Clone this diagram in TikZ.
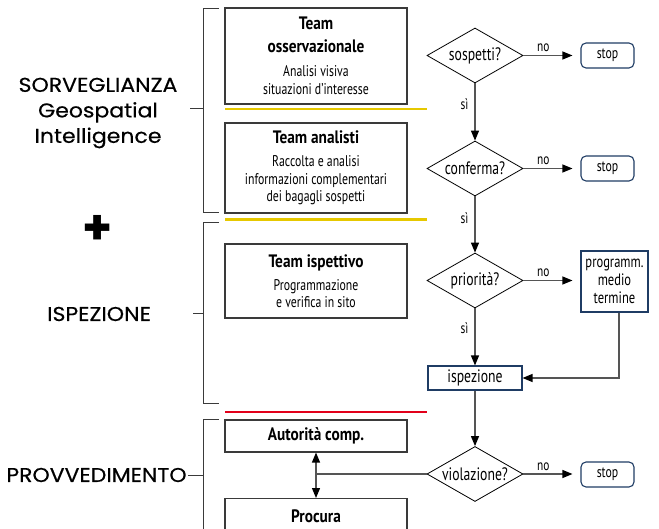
\documentclass[tikz,border=0pt]{standalone}
\usepackage{fontspec}
\setmainfont{PT Sans}[FakeStretch=0.76]
\newfontfamily\cond{PT Sans}[FakeStretch=0.76]
\newfontfamily\condb{PT Sans Bold}[FakeStretch=0.85]
\newfontfamily\sidef{Poppins}[FakeStretch=1.1,FakeBold=0.4]
\newfontfamily\plusf{Poppins Bold}
\usetikzlibrary{shapes.geometric,arrows.meta,calc}
\definecolor{lin}{HTML}{555555}
\definecolor{boxc}{HTML}{3A3A3A}
\definecolor{navy}{HTML}{1F3C64}
\definecolor{gold}{HTML}{E6C800}
\definecolor{redl}{HTML}{E2001A}
\newcommand\bt[1]{{\condb\fontsize{18}{17.5}\selectfont #1}}
\begin{document}
\begin{tikzpicture}[x=1pt,y=-1pt,
  teambox/.style={draw=boxc,line width=1.1pt,minimum width=182pt,inner sep=0pt,align=center,font=\cond\fontsize{15.5}{17.5}\selectfont},
  dec/.style={diamond,draw=black,line width=0.8pt,aspect=1.75,minimum width=96pt,minimum height=55pt,inner sep=0pt,font=\cond\fontsize{18}{19}\selectfont},
  stopbox/.style={draw=navy,line width=1.1pt,rounded corners=5pt,minimum width=53pt,minimum height=25pt,inner sep=0pt,font=\cond\fontsize{15.5}{17}\selectfont},
  bluebox/.style={draw=navy,line width=1.1pt,inner sep=0pt,align=center,font=\cond\fontsize{16.5}{18}\selectfont},
  conn/.style={draw=lin,line width=1.2pt},
  arr/.style={conn,-{Triangle[length=10pt,width=8pt,color=black,fill=black]}},
  dbl/.style={conn,{Triangle[length=10pt,width=8pt,color=black,fill=black]}-{Triangle[length=10pt,width=8pt,color=black,fill=black]}},
  lbl/.style={font=\cond\fontsize{15}{16}\selectfont,inner sep=0pt},
  side/.style={font=\sidef\fontsize{20}{25.5}\selectfont,align=center,inner sep=0pt},
  brk/.style={draw=boxc,line width=1pt},
]
\useasboundingbox (0,0) rectangle (659,529);
\begin{scope}
\clip (0,0) rectangle (659,529);

% left labels
\node[side] (sorv) at (98,113) {SORVEGLIANZA\\Geospatial\\Intelligence};
\node[font=\plusf\fontsize{48}{48}\selectfont,inner sep=0pt] (plus) at (98,230) {+};
\node[side] (isp) at (99,314) {ISPEZIONE};
\node[side] (prov) at (96.5,475) {PROVVEDIMENTO};

% brackets
\draw[brk] (219,9) -- (203.5,9) -- (203.5,213) -- (219,213);
\draw[brk] (190,109) -- (203.5,109);
\draw[brk] (219,223) -- (203.5,223) -- (203.5,404) -- (219,404);
\draw[brk] (193,314) -- (203.5,314);
\draw[brk] (219,419) -- (203.5,419) -- (203.5,540);
\draw[brk] (188,475) -- (203.5,475);

% team boxes
\node[teambox,minimum height=96pt] (t1) at (316,56) {\bt{Team}\\[5.5pt]\bt{osservazionale}\\[6.5pt]Analisi visiva\\situazioni d’interesse};
\node[teambox,minimum height=90pt] (t2) at (316,168) {\bt{Team analisti}\\[5.5pt]Raccolta e analisi\\informazioni complementari\\dei bagagli sospetti};
\node[teambox,minimum height=74pt] (t3) at (316,281) {\bt{Team ispettivo}\\[5.5pt]Programmazione\\e verifica in sito};
\node[teambox,minimum height=32pt] (aut) at (316,436) {\bt{Autorità comp.}};
\node[teambox,anchor=north,text height=24pt,text depth=40pt] (proc) at (316,498) {\bt{Procura}};

% separator lines
\draw[gold,line width=2.6pt] (225,109) -- (427,109);
\draw[gold,line width=2.6pt] (225,219.5) -- (427,219.5);
\draw[redl,line width=2.6pt] (225,412) -- (427,412);

% decisions
\node[dec] (d1) at (475,55.5) {sospetti?};
\node[dec] (d2) at (475,168.5) {conferma?};
\node[dec] (d3) at (475,280.5) {priorità?};
\node[dec] (d4) at (475,474) {violazione?};

\node[stopbox] (s1) at (607.5,55.5) {stop};
\node[stopbox] (s2) at (607.5,168.5) {stop};
\node[stopbox] (s4) at (607.5,474.5) {stop};
\node[bluebox,minimum width=67pt,minimum height=61pt] (prog) at (614.5,281.5) {programm.\\medio\\termine};
\node[bluebox,minimum width=94pt,minimum height=24pt,font=\cond\fontsize{18}{19}\selectfont] (ispz) at (475,378) {ispezione};

% connectors
\draw[arr] (d1.south) -- node[lbl,left=6pt,pos=0.37] {sì} (d2.north);
\draw[arr] (d2.south) -- node[lbl,left=6pt,pos=0.38] {sì} (d3.north);
\draw[arr] (d3.south) -- node[lbl,left=6pt,pos=0.35] {sì} (ispz.north);
\draw[arr] (ispz.south) -- (d4.north);
\draw[arr,shorten >=8pt] (d1.east) -- node[lbl,above=3pt,pos=0.35] {no} (s1.west);
\draw[arr,shorten >=8pt] (d2.east) -- node[lbl,above=3pt,pos=0.35] {no} (s2.west);
\draw[arr,shorten >=8pt] (d3.east) -- node[lbl,above=3pt,pos=0.35] {no} (prog.west |- d3.east);
\draw[arr,shorten >=8pt] (d4.east) -- node[lbl,above=3pt,pos=0.35] {no} (s4.west |- d4.east);
\draw[arr] ($(prog.south)+(4.5,0)$) |- (ispz.east);
\draw[dbl] (aut.south) -- (proc.north);
\draw[conn] (aut.south |- d4.west) -- (d4.west);
\end{scope}
\end{tikzpicture}
\end{document}
